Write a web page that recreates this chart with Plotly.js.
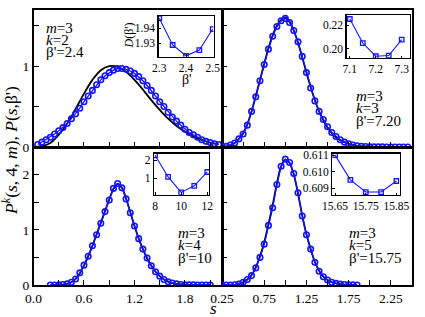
<!DOCTYPE html>
<html><head><meta charset="utf-8">
<script src="https://cdn.plot.ly/plotly-3.0.1.min.js"></script>
<style>html,body{margin:0;padding:0;background:#fff}#g{width:425px;height:317px}</style>
</head><body><div id="g"></div>
<script>
// ---------- data ----------
// top-left: k=2, beta'=2.4
const sTLb = [0.05,0.10,0.15,0.20,0.25,0.30,0.35,0.40,0.45,0.50,0.55,0.60,0.65,0.70,0.75,0.80,0.85,0.90,0.95,1.00,1.05,1.10,1.15,1.20,1.25,1.30,1.35,1.40,1.45,1.50,1.55,1.60,1.65,1.70,1.75,1.80,1.85,1.90,1.95,2.00,2.05,2.10,2.15,2.20];
const pTLb = [0.03,0.06,0.09,0.12,0.16,0.20,0.24,0.29,0.35,0.41,0.48,0.56,0.63,0.70,0.77,0.83,0.88,0.92,0.95,0.97,0.97,0.96,0.94,0.91,0.87,0.82,0.76,0.70,0.63,0.56,0.50,0.43,0.37,0.32,0.27,0.22,0.18,0.15,0.12,0.09,0.07,0.055,0.04,0.03];
const sTLk = [0.0,0.1,0.2,0.3,0.4,0.5,0.6,0.7,0.8,0.9,1.0,1.1,1.2,1.3,1.4,1.5,1.6,1.7,1.8,1.9,2.0,2.1,2.2];
const pTLk = [0,0.01,0.05,0.15,0.29,0.47,0.66,0.83,0.95,1.00,0.99,0.93,0.83,0.71,0.58,0.46,0.35,0.26,0.19,0.13,0.085,0.055,0.035];

// top-right: k=3, beta'=7.20
const sTR = [0.25,0.30,0.35,0.40,0.45,0.50,0.55,0.60,0.65,0.70,0.75,0.80,0.85,0.90,0.95,1.00,1.05,1.10,1.15,1.20,1.25,1.30,1.35,1.40,1.45,1.50,1.55,1.60,1.65,1.70,1.75,1.80,1.85,1.90,1.95,2.00,2.05,2.10,2.15,2.20,2.25,2.30,2.35,2.40,2.45];
const pTRb = [0.002,0.008,0.025,0.05,0.10,0.16,0.27,0.44,0.62,0.82,1.02,1.21,1.37,1.49,1.56,1.59,1.54,1.44,1.30,1.12,0.92,0.73,0.57,0.44,0.34,0.25,0.18,0.13,0.09,0.06,0.04,0.025,0.015,0.01,0.006,0.004,0.002,0.001,0.001,0,0,0,0,0,0];
const pTRk = [0.001,0.006,0.02,0.05,0.10,0.17,0.28,0.44,0.63,0.83,1.03,1.22,1.38,1.50,1.57,1.60,1.55,1.44,1.29,1.11,0.92,0.74,0.58,0.44,0.33,0.24,0.17,0.12,0.085,0.06,0.04,0.025,0.015,0.01,0.006,0.004,0.002,0.001,0.001,0,0,0,0,0,0];

// bottom-left: k=4, beta'=10
const sBL = [0.20,0.25,0.30,0.35,0.40,0.45,0.50,0.55,0.60,0.65,0.70,0.75,0.80,0.85,0.90,0.95,1.00,1.05,1.10,1.15,1.20,1.25,1.30,1.35,1.40,1.45,1.50,1.55,1.60,1.65,1.70,1.75,1.80,1.85,1.90,1.95,2.00,2.05,2.10];
const pBLb = [0,0.001,0.003,0.008,0.02,0.05,0.11,0.22,0.36,0.52,0.71,0.91,1.12,1.33,1.54,1.75,1.84,1.76,1.56,1.31,1.07,0.84,0.65,0.49,0.35,0.24,0.16,0.10,0.06,0.035,0.02,0.01,0.005,0.003,0.002,0.001,0,0,0];
const pBLk = [0,0.001,0.003,0.008,0.02,0.05,0.11,0.21,0.35,0.52,0.71,0.92,1.13,1.34,1.55,1.74,1.83,1.76,1.57,1.32,1.07,0.84,0.65,0.48,0.35,0.24,0.16,0.10,0.06,0.035,0.02,0.01,0.005,0.003,0.002,0.001,0,0,0];

// bottom-right: k=5, beta'=15.75
const sBR = [0.25,0.30,0.35,0.40,0.45,0.50,0.55,0.60,0.65,0.70,0.75,0.80,0.85,0.90,0.95,1.00,1.05,1.10,1.15,1.20,1.25,1.30,1.35,1.40,1.45,1.50,1.55,1.60,1.65,1.70,1.75,1.80,1.85];
const pBRb = [0,0,0.001,0.004,0.015,0.05,0.10,0.17,0.31,0.50,0.74,1.08,1.40,1.82,2.15,2.28,2.22,2.02,1.67,1.25,0.91,0.65,0.41,0.25,0.15,0.09,0.05,0.03,0.015,0.008,0.004,0.002,0.001];
const pBRk = [0,0,0.001,0.004,0.015,0.05,0.10,0.18,0.32,0.52,0.77,1.10,1.45,1.84,2.15,2.27,2.21,2.00,1.66,1.26,0.92,0.65,0.42,0.26,0.15,0.09,0.05,0.03,0.015,0.008,0.004,0.002,0.001];

// insets: D(beta')
const bTL = [2.30,2.35,2.40,2.45,2.50];
const dTL = [1.9467,1.9289,1.9217,1.9255,1.9395];
const bTR = [7.10,7.15,7.20,7.25,7.30];
const dTR = [0.2252,0.2048,0.1936,0.1942,0.2077];
const bBL = [8,9,10,11,12];
const dBL = [2.28,1.06,0.19,0.56,1.34];
const bBR = [15.65,15.70,15.75,15.80,15.85];
const dBR = [0.6110,0.6095,0.60876,0.60876,0.60943];

// ticks (labelled majors + unlabelled minors)
const xtL = [0,0.6,1.2,1.8];
const xtLtext = ['0.0','0.6','1.2','1.8'];
const xtLminor = [0.3,0.9,1.5,2.1];
const xtR = [0.25,0.75,1.25,1.75,2.25];
const xtRtext = ['0.25','0.75','1.25','1.75','2.25'];
const xtRminor = [0.5,1.0,1.5,2.0];
const ytT = [0,1];
const ytTtext = ['0','1'];
const ytTminor = [0.5,1.5];
const ytB = [0,1,2];
const ytBtext = ['0','1','2'];
const ytBminor = [0.5,1.5];

const labels = [
  ['<i>m</i>=3','<i>k</i>=2',"β'=2.4"],
  ['<i>m</i>=3','<i>k</i>=3',"β'=7.20"],
  ['<i>m</i>=3','<i>k</i>=4',"β'=10"],
  ['<i>m</i>=3','<i>k</i>=5',"β'=15.75"]
];

// ---------- layout helpers ----------
const W=425,H=317;
const FONT='"Liberation Serif", "Times New Roman", Times, serif';
const xd=(a,b)=>[a/W,b/W];
const yd=(t,b)=>[1-b/H,1-t/H];
const BLUE='#1414ff';

function mainAx(o,minorVals){
  return Object.assign({showline:true,mirror:true,linecolor:'black',linewidth:1.5,
    ticks:'inside',ticklen:5,tickwidth:1,tickcolor:'black',showgrid:false,zeroline:false,
    tickmode:'array',tickfont:{family:FONT,size:13.5,color:'black'},fixedrange:true,
    minor:{tickmode:'array',tickvals:minorVals,ticks:'inside',ticklen:5,tickwidth:1,tickcolor:'black',showgrid:false}},o);
}
function insAx(o){
  return Object.assign({showline:true,mirror:true,linecolor:'black',linewidth:1.3,
    ticks:'inside',ticklen:2.5,tickwidth:1,tickcolor:'black',showgrid:false,zeroline:false,
    tickmode:'array',tickfont:{family:FONT,size:11.5,color:'black'},fixedrange:true},o);
}

const traces=[];
function addMain(xa,ya,sk,pk,sb,pb){
  traces.push({x:sk,y:pk,xaxis:xa,yaxis:ya,mode:'lines',line:{color:'black',width:1.8,shape:'spline'},hoverinfo:'skip'});
  traces.push({x:sb,y:pb,xaxis:xa,yaxis:ya,mode:'lines+markers',line:{color:BLUE,width:1.3},
    marker:{symbol:'circle-open',size:5.5,color:BLUE,line:{width:1.6,color:BLUE}},hoverinfo:'skip'});
}
function addIns(xa,ya,b,d){
  traces.push({x:b,y:d,xaxis:xa,yaxis:ya,mode:'lines+markers',line:{color:BLUE,width:1.1},
    marker:{symbol:'square-open',size:4.5,color:BLUE,line:{width:1.3,color:BLUE}},hoverinfo:'skip'});
}
addMain('x','y',sTLk,pTLk,sTLb,pTLb);
addMain('x2','y2',sTR,pTRk,sTR,pTRb);
addMain('x3','y3',sBL,pBLk,sBL,pBLb);
addMain('x4','y4',sBR,pBRk,sBR,pBRb);
addIns('x5','y5',bTL,dTL);
addIns('x6','y6',bTR,dTR);
addIns('x7','y7',bBL,dBL);
addIns('x8','y8',bBR,dBR);

const layout={
  width:W,height:H,margin:{l:0,r:0,t:0,b:0},showlegend:false,
  paper_bgcolor:'white',plot_bgcolor:'rgba(0,0,0,0)',
  font:{family:FONT,color:'black'},
  xaxis:mainAx({domain:xd(33.5,222),range:[0,2.24],anchor:'y',tickvals:xtL,ticktext:xtLtext,showticklabels:false},xtLminor),
  yaxis:mainAx({domain:yd(9.5,147),range:[0,1.7],anchor:'x',tickvals:ytT,ticktext:ytTtext},ytTminor),
  xaxis2:mainAx({domain:xd(222,412),range:[0.25,2.5],anchor:'y2',tickvals:xtR,ticktext:xtRtext,showticklabels:false},xtRminor),
  yaxis2:mainAx({domain:yd(9.5,147),range:[0,1.7],anchor:'x2',tickvals:ytT,ticktext:ytTtext,showticklabels:false},ytTminor),
  xaxis3:mainAx({domain:xd(33.5,222),range:[0,2.24],anchor:'y3',tickvals:xtL,ticktext:xtLtext},xtLminor),
  yaxis3:mainAx({domain:yd(147,285),range:[0,2.5],anchor:'x3',tickvals:ytB,ticktext:ytBtext},ytBminor),
  xaxis4:mainAx({domain:xd(222,412),range:[0.25,2.5],anchor:'y4',tickvals:xtR,ticktext:xtRtext},xtRminor),
  yaxis4:mainAx({domain:yd(147,285),range:[0,2.5],anchor:'x4',tickvals:ytB,ticktext:ytBtext,showticklabels:false},ytBminor),
  xaxis5:insAx({domain:xd(158.5,213.5),range:[2.297,2.503],anchor:'y5',tickvals:[2.3,2.4,2.5],ticktext:['2.3','2.4','2.5']}),
  yaxis5:insAx({domain:yd(16,56.7),range:[1.9211,1.9482],anchor:'x5',tickvals:[1.93,1.94],ticktext:['1.93','1.94']}),
  xaxis6:insAx({domain:xd(346.7,410),range:[7.088,7.332],anchor:'y6',tickvals:[7.1,7.2,7.3],ticktext:['7.1','7.2','7.3']}),
  yaxis6:insAx({domain:yd(15,58),range:[0.1921,0.2286],anchor:'x6',tickvals:[0.20,0.22],ticktext:['0.20','0.22']}),
  xaxis7:insAx({domain:xd(154,209),range:[7.92,12.13],anchor:'y7',tickvals:[8,10,12],ticktext:['8','10','12']}),
  yaxis7:insAx({domain:yd(153.7,194.7),range:[0.06,2.37],anchor:'x7',tickvals:[1,2],ticktext:['1','2']}),
  xaxis8:insAx({domain:xd(332.3,399.5),range:[15.641,15.86],anchor:'y8',tickvals:[15.65,15.75,15.85],ticktext:['15.65','15.75','15.85']}),
  yaxis8:insAx({domain:yd(153.5,195),range:[0.60858,0.6111],anchor:'x8',tickvals:[0.609,0.610,0.611],ticktext:['0.609','0.610','0.611']}),
  annotations:[]
};

const ann=layout.annotations;
function txt(t,px,py,size,opts){
  ann.push(Object.assign({text:t,x:px/W,y:1-py/H,xref:'paper',yref:'paper',showarrow:false,
    xanchor:'left',yanchor:'middle',font:{family:FONT,size:size,color:'black'}},opts||{}));
}
const labelPos=[[44,27.5],[354,96],[176,233],[347,233]];
labels.forEach((L,i)=>{
  const [x0,y0]=labelPos[i];
  L.forEach((t,j)=>txt(t,x0,y0+j*12.3,15));
});
txt('<i>D</i>(β\')',128.5,36,12,{xanchor:'center',textangle:-90});
txt("β'",187,79,14,{xanchor:'center'});
txt('<i>P</i><sup><i>k</i></sup>(<i>s</i>, 4, <i>m</i>), <i>P</i>(<i>s</i>,β\')',10,151,17.5,{xanchor:'center',textangle:-90});
txt('<i>s</i>',213,308,17,{xanchor:'center'});

Plotly.newPlot('g',traces,layout,{staticPlot:true,displayModeBar:false});
</script></body></html>
